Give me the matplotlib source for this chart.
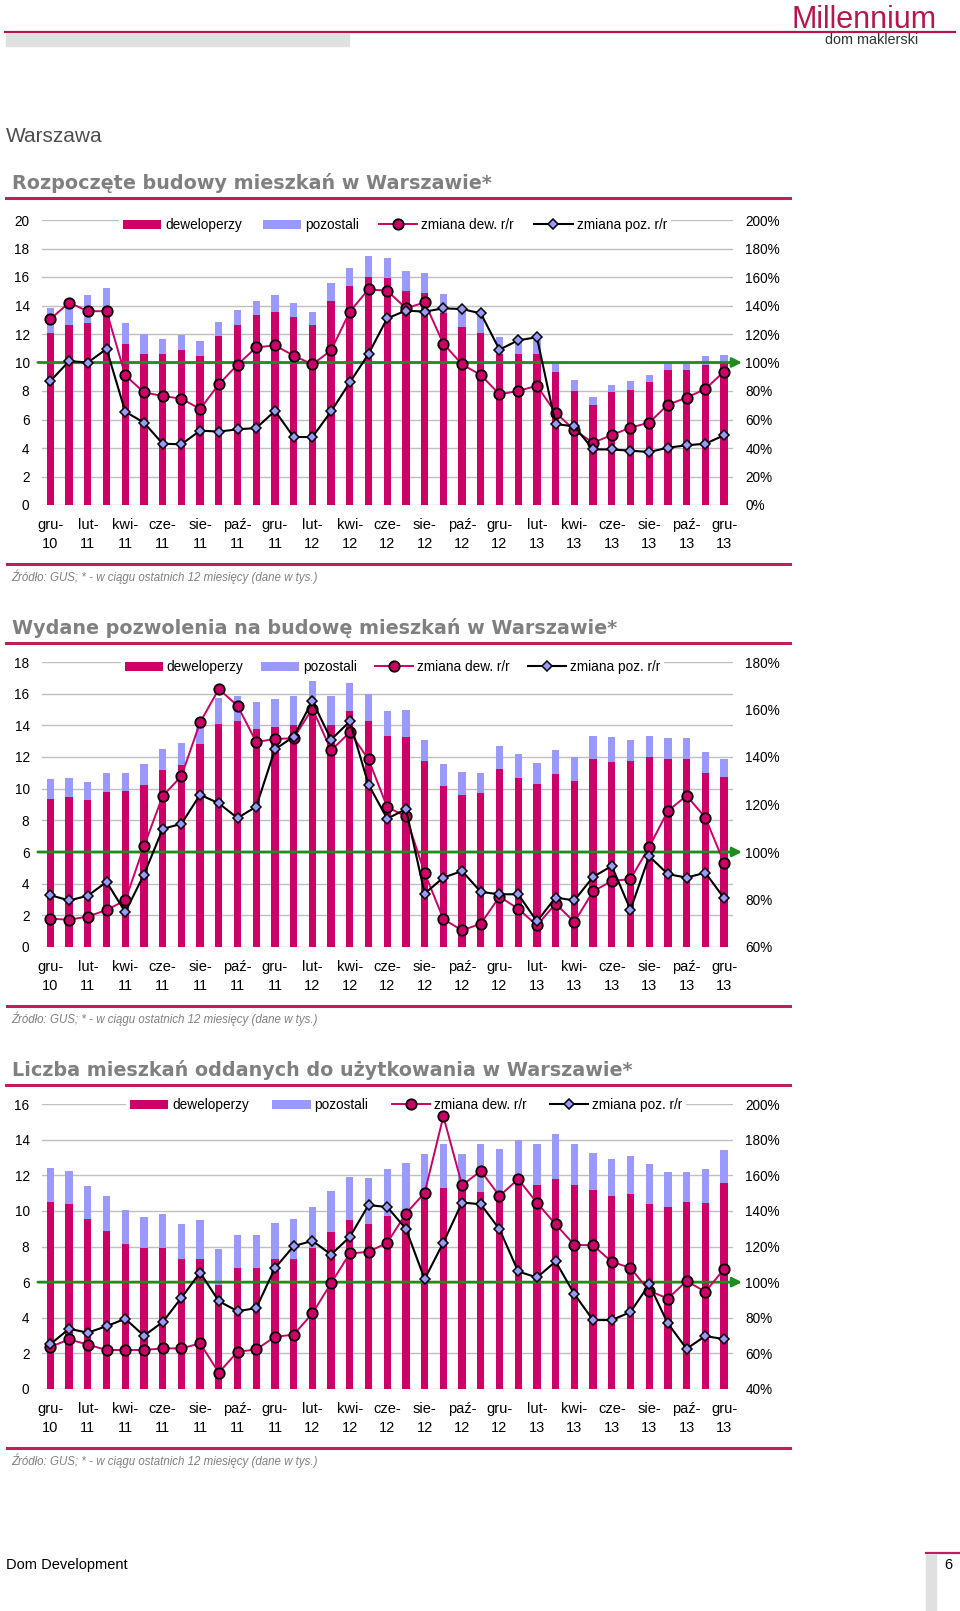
import matplotlib
matplotlib.use('Agg')
import matplotlib.pyplot as plt
from matplotlib.lines import Line2D
from matplotlib.patches import Patch, Rectangle

plt.rcParams['font.family'] = ['Liberation Sans', 'DejaVu Sans']

W, H = 960, 1611
MAG = '#CC0066'
LAV = '#9999FF'
RULE = '#BE1E5A'

# miesiace gru-10 ... gru-13
months = ['gru-10', 'sty-11', 'lut-11', 'mar-11', 'kwi-11', 'maj-11', 'cze-11', 'lip-11', 'sie-11',
          'wrz-11', 'paź-11', 'lis-11', 'gru-11', 'sty-12', 'lut-12', 'mar-12', 'kwi-12', 'maj-12',
          'cze-12', 'lip-12', 'sie-12', 'wrz-12', 'paź-12', 'lis-12', 'gru-12', 'sty-13', 'lut-13',
          'mar-13', 'kwi-13', 'maj-13', 'cze-13', 'lip-13', 'sie-13', 'wrz-13', 'paź-13', 'lis-13',
          'gru-13']
tick_labels = [m.replace('-', '-\n') for m in months[::2]]

# Rozpoczete budowy (tys.)
start_dev = [12.1, 12.6, 12.8, 13.8, 11.3, 10.6, 10.6, 10.9, 10.45, 11.85, 12.65, 13.3, 13.55,
             13.2, 12.65, 14.3, 15.35, 16.0, 15.9, 15.0, 14.85, 13.45, 12.5, 12.1, 10.6, 10.6,
             10.6, 9.3, 8.0, 7.05, 7.9, 8.1, 8.6, 9.45, 9.45, 9.85, 10.0]
start_poz = [1.75, 1.8, 1.95, 1.4, 1.5, 1.4, 1.05, 1.05, 1.05, 1.0, 1.05, 1.0, 1.2, 1.0, 0.9,
             1.3, 1.3, 1.5, 1.45, 1.45, 1.4, 1.35, 1.3, 1.3, 1.2, 1.0, 1.0, 0.7, 0.75, 0.55,
             0.5, 0.6, 0.5, 0.5, 0.5, 0.6, 0.5]
start_dev_rr = [130.5, 142, 136, 136, 91, 79, 76.5, 74.6, 67.4, 84.7, 98.5, 110.6, 112, 104.8,
                98.7, 108.5, 135.7, 151.3, 150.4, 138, 142.2, 113.2, 98.7, 91.2, 77.7, 80, 83.7,
                64.8, 52.6, 43.7, 49.1, 54.3, 57.8, 70.4, 75.3, 81.4, 93.6]
start_poz_rr = [87, 101, 100, 109.5, 65.5, 57.8, 43, 42.6, 52.2, 51.5, 53.1, 54, 66, 47.7, 47.7,
                65.7, 86, 106, 131, 136.4, 135.7, 138, 137.5, 134.5, 109, 115.6, 117.7, 56.8,
                55.2, 39, 39, 38.1, 37.2, 40.2, 41.9, 43, 48.9]

# Wydane pozwolenia (tys.)
perm_dev = [9.37, 9.5, 9.26, 9.77, 9.87, 10.25, 11.15, 11.5, 12.85, 14.1, 14.3, 13.8, 13.9,
            14.05, 15.15, 14.0, 14.9, 14.3, 13.3, 13.25, 11.75, 10.15, 9.6, 9.7, 11.25, 10.7,
            10.3, 10.95, 10.5, 11.9, 11.7, 11.75, 12.0, 11.85, 11.85, 11.0, 10.75]
perm_poz = [1.23, 1.2, 1.14, 1.23, 1.13, 1.3, 1.35, 1.4, 1.05, 1.6, 1.55, 1.65, 1.75, 1.8, 1.65,
            1.85, 1.8, 1.65, 1.6, 1.75, 1.35, 1.4, 1.45, 1.3, 1.45, 1.5, 1.35, 1.5, 1.5, 1.45,
            1.55, 1.3, 1.3, 1.35, 1.35, 1.3, 1.1]
perm_dev_rr = [71.9, 71.5, 72.8, 75.6, 79.6, 102.4, 123.6, 131.9, 154.6, 168.6, 161.6, 146.3,
               147.6, 147.9, 160.4, 142.8, 150.4, 139, 118.9, 115, 91.2, 71.8, 67, 69.8, 81.2,
               76.1, 69.1, 78.2, 70.5, 83.4, 87.8, 88.6, 102.1, 117.3, 123.7, 114.5, 95.5]
perm_poz_rr = [81.8, 79.6, 81.6, 87.4, 74.7, 90.5, 109.7, 111.9, 124.1, 120.5, 114.3, 119.1,
               143.2, 148.6, 163.6, 147.3, 155, 128.4, 114, 118.1, 82.5, 89.2, 92, 83.2, 82.2,
               82.2, 70.8, 80.8, 79.6, 89.5, 94.1, 75.7, 98.2, 90.7, 89.2, 91.3, 80.6]

# Oddane do uzytkowania (tys.)
done_dev = [10.52, 10.37, 9.57, 8.88, 8.15, 7.9, 7.93, 7.29, 7.29, 5.83, 6.77, 6.77, 7.29, 7.29,
            7.94, 8.84, 9.46, 9.27, 9.7, 9.9, 11.0, 11.31, 11.2, 11.05, 10.98, 11.9, 11.46,
            11.78, 11.46, 11.18, 10.82, 10.95, 10.39, 10.24, 10.49, 10.43, 11.59]
done_poz = [1.91, 1.87, 1.85, 1.96, 1.92, 1.78, 1.88, 1.96, 2.21, 2.04, 1.87, 1.9, 2.04, 2.24,
            2.25, 2.3, 2.44, 2.6, 2.67, 2.79, 2.22, 2.47, 2.02, 2.73, 2.52, 2.06, 2.32, 2.52,
            2.3, 2.05, 2.08, 2.12, 2.23, 1.93, 1.7, 1.94, 1.83]
done_dev_rr = [63.6, 67.9, 64.9, 61.9, 61.9, 61.9, 62.8, 62.8, 65.6, 49.2, 60.9, 62.2, 69.3,
               70.5, 82.4, 99.4, 116.1, 117, 122.1, 138.5, 150.1, 193.1, 154.4, 162.4, 148.4,
               157.8, 144.5, 132.5, 120.9, 120.7, 111.4, 108, 95.1, 90.8, 100.6, 94.6, 107.3]
done_poz_rr = [65.2, 73.8, 71.6, 75.3, 79.4, 69.9, 77.6, 91.2, 105.4, 89.3, 83.7, 85.4, 107.9,
               120.2, 123.2, 115.5, 125.4, 143.2, 142.2, 129.9, 101.7, 122.2, 144.7, 143.7,
               129.7, 106, 102.6, 111.6, 93.3, 78.7, 78.7, 83.2, 98.7, 76.8, 62.6, 69.7, 68]

fig = plt.figure(figsize=(W / 100, H / 100), dpi=100)


def fx(x):
    return x / W


def fy(y):
    return 1 - y / H


def hline(x0, x1, y, color, lw):
    fig.add_artist(Line2D([fx(x0), fx(x1)], [fy(y), fy(y)], color=color, lw=lw,
                          transform=fig.transFigure))


def draw_chart(top, bottom, dev, poz, dev_rr, poz_rr, ymax, rlim, title, title_y, leg_pos, colsp):
    ax = fig.add_axes([fx(42), fy(bottom), fx(733) - fx(42), (bottom - top) / H])
    ax2 = ax.twinx()
    x = list(range(len(dev)))

    ax.bar(x, dev, width=0.39, color=MAG, zorder=2)
    ax.bar(x, poz, bottom=dev, width=0.39, color=LAV, zorder=2)
    ax.set_ylim(0, ymax)
    ax.set_yticks(range(0, ymax + 1, 2))
    ax.set_xlim(-0.45, 36.48)
    ax.set_xticks(range(0, len(dev), 2))
    ax.set_xticklabels(tick_labels, linespacing=1.4)
    ax.yaxis.grid(True, color='#BFBFBF', lw=1)
    ax.set_axisbelow(True)
    ax.tick_params(axis='y', length=0, labelsize=9.8, pad=9)
    ax.tick_params(axis='x', length=0, labelsize=10.5, pad=9.5)

    ax2.annotate('', xy=(1.013, 100), xytext=(-0.006, 100),
                 xycoords=ax2.get_yaxis_transform(), textcoords=ax2.get_yaxis_transform(),
                 arrowprops=dict(arrowstyle='-|>', color='#1E8C1E', lw=2, mutation_scale=14,
                                 shrinkA=0, shrinkB=0),
                 annotation_clip=False, zorder=2)
    ax2.plot(x, dev_rr, color=MAG, lw=1.4, marker='o', ms=7.5, mfc=MAG, mec='black', mew=1.3,
             zorder=4)
    ax2.plot(x, poz_rr, color='black', lw=1.5, marker='D', ms=5, mfc=LAV, mec='black', mew=1.1,
             zorder=5)
    ax2.set_ylim(*rlim)
    ax2.set_yticks(range(rlim[0], rlim[1] + 1, 20))
    ax2.set_yticklabels(['%d%%' % v for v in range(rlim[0], rlim[1] + 1, 20)])
    ax2.tick_params(axis='y', length=0, labelsize=9.8, pad=9)
    for a in (ax, ax2):
        for s in a.spines.values():
            s.set_visible(False)

    handles = [Patch(facecolor=MAG), Patch(facecolor=LAV),
               Line2D([], [], color=MAG, lw=1.4, marker='o', ms=7.5, mfc=MAG, mec='black', mew=1.3),
               Line2D([], [], color='black', lw=1.5, marker='D', ms=5, mfc=LAV, mec='black', mew=1.1)]
    leg = ax.legend(handles, ['deweloperzy', 'pozostali', 'zmiana dew. r/r', 'zmiana poz. r/r'],
                    loc='center', bbox_to_anchor=leg_pos, ncol=4, fontsize=9.8, frameon=True,
                    fancybox=False, edgecolor='none', facecolor='white', framealpha=1,
                    handlelength=2.8, handletextpad=0.3, columnspacing=colsp, borderpad=0.3)
    leg.set_zorder(10)

    fig.text(fx(12), fy(title_y), title, fontsize=13.8, fontweight='bold', color='#808080',
             family='DejaVu Sans', va='center')
    hline(6, 790, title_y + 15, RULE, 2.2)
    hline(7, 790, bottom + 59, RULE, 2.2)
    fig.text(fx(11), fy(bottom + 72), 'Źródło: GUS; * - w ciągu ostatnich 12 miesięcy (dane w tys.)',
             fontsize=8.3, style='italic', color='#808080', va='center')


# naglowek strony
hline(5, 955, 32, '#B5174B', 1.6)
fig.add_artist(Rectangle((fx(6), fy(46)), fx(349) - fx(6), 12 / H, color='#E0E0E0',
                         transform=fig.transFigure))
fig.text(fx(791), fy(28), 'Millennium', fontsize=22, color='#B5174B', va='baseline')
fig.text(fx(825), fy(40), 'dom maklerski', fontsize=10.4, color='#333333', va='center')
fig.text(fx(6), fy(137), 'Warszawa', fontsize=15, color='#4D4D4D', va='center')

draw_chart(220, 505, start_dev, start_poz, start_dev_rr, start_poz_rr, 20, (0, 200),
           'Rozpoczęte budowy mieszkań w Warszawie*', 183, (0.511, 0.982), 1.5)
draw_chart(662, 947, perm_dev, perm_poz, perm_dev_rr, perm_poz_rr, 18, (60, 180),
           'Wydane pozwolenia na budowę mieszkań w Warszawie*', 628, (0.507, 0.982), 1.3)
draw_chart(1104, 1389, done_dev, done_poz, done_dev_rr, done_poz_rr, 16, (40, 200),
           'Liczba mieszkań oddanych do użytkowania w Warszawie*', 1070, (0.527, 0.996), 1.7)

# stopka
fig.text(fx(6), fy(1565), 'Dom Development', fontsize=10.5, color='black', va='center')
fig.text(fx(952), fy(1565), '6', fontsize=10.5, color='black', va='center', ha='right')
hline(926, 960, 1553, RULE, 1.6)
fig.add_artist(Rectangle((fx(926), 0), fx(936) - fx(926), fy(1555), color='#E0E0E0',
                         transform=fig.transFigure))

fig.savefig('out.png', dpi=100)
